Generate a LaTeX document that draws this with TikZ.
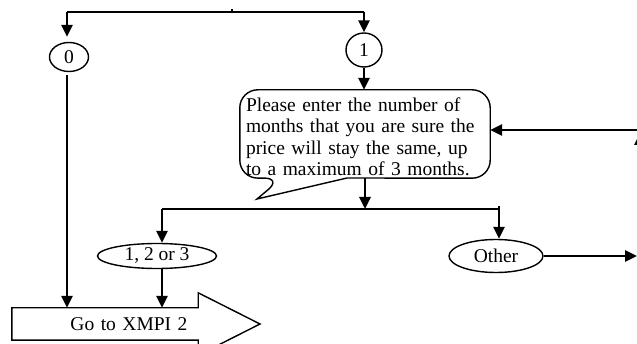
\documentclass[tikz,border=0pt]{standalone}
\usepackage{fontspec}
\setmainfont{Liberation Serif}
\usetikzlibrary{arrows.meta,shapes.geometric}

\tikzset{
  flow/.style={line width=2.8pt,-{Triangle[length=12pt,width=11pt]}},
  rail/.style={line width=1.5pt},
  oval/.style={draw,ellipse,line width=1.4pt,inner sep=0pt},
  outline/.style={line width=1.4pt},
}

\begin{document}
\begin{tikzpicture}[x=1pt,y=-1pt,font=\fontsize{19.5}{21.5}\selectfont]
    \useasboundingbox (0,0) rectangle (637,344);
    \clip (0,0) rectangle (637,344);

    % Answer ovals
    \node[oval,minimum width=39,minimum height=29] (zero) at (69,57) {0};
    \node[oval,minimum width=36,minimum height=34] (one) at (364,50) {1};
    \node[oval,minimum width=119,minimum height=25] (few) at (157,256) {1, 2 or 3};
    \node[oval,minimum width=94,minimum height=33] (other) at (496,256) {Other};

    % Question bubble (text sits 3pt low in its frame)
    \node[text width=238,align=left,inner xsep=6,inner ysep=0,minimum height=88] (prompt) at (365,137)
        {Please enter the number of\\months that you are sure the\\price will stay the same, up\\to a maximum of 3 months.};
    \draw[outline] (347,178) [rounded corners=18pt] -- ([yshift=3pt]prompt.south east) -- ([yshift=3pt]prompt.north east)
        -- ([yshift=3pt]prompt.north west) -- ([yshift=3pt]prompt.south west) -- (282,178) [sharp corners] -- (257,199) -- cycle;

    % Go to block arrow
    \node[text width=165,align=right,inner xsep=10.5,inner ysep=0,minimum height=32] (goto) at (105,324) {Go to XMPI 2};
    \draw[outline] (goto.north east) -- (goto.north west) -- (goto.south west) -- (goto.south east)
        -- ++(0,15) -- (260,324) -- ([yshift=15pt]goto.north east) -- cycle;

    % Junctions
    \coordinate (topL) at (67,12);
    \coordinate (topR) at (364,12);
    \coordinate (brL) at (162,209);
    \coordinate (brR) at (499,209);
    \coordinate (outR) at (637,256);
    \coordinate (backR) at (637,130);
    \coordinate (upR) at (640,133);

    % Top split
    \draw[rail] (topL) -- (topR);
    \draw[line width=2pt] (232,9) -- (232,12);
    \draw[flow,shorten >=5pt] (topL) -- (topL |- zero.north);
    \draw[flow] (topR) -- (topR |- one.north);
    \draw[flow,shorten <=3pt] (zero.south -| topL) -- (topL |- goto.north);
    \draw[flow] (one.south) -- ([yshift=3pt]one.south |- prompt.north);

    % Answer split
    \draw[rail] (brL) -- (brR);
    \draw[flow] ([yshift=3pt]prompt.south) -- (prompt.south |- brL);
    \draw[flow] (brL) -- (brL |- few.north);
    \draw[flow] ([yshift=3pt]brR) -- (brR |- other.north);
    \draw[flow] (few.south -| brL) -- (brL |- goto.north);

    % Loop back
    \draw[flow] (other.east) -- (outR);
    \draw[flow] (backR) -- (backR -| prompt.east);
    \draw[flow] ([yshift=-40pt]upR) -- (upR);
\end{tikzpicture}
\end{document}
